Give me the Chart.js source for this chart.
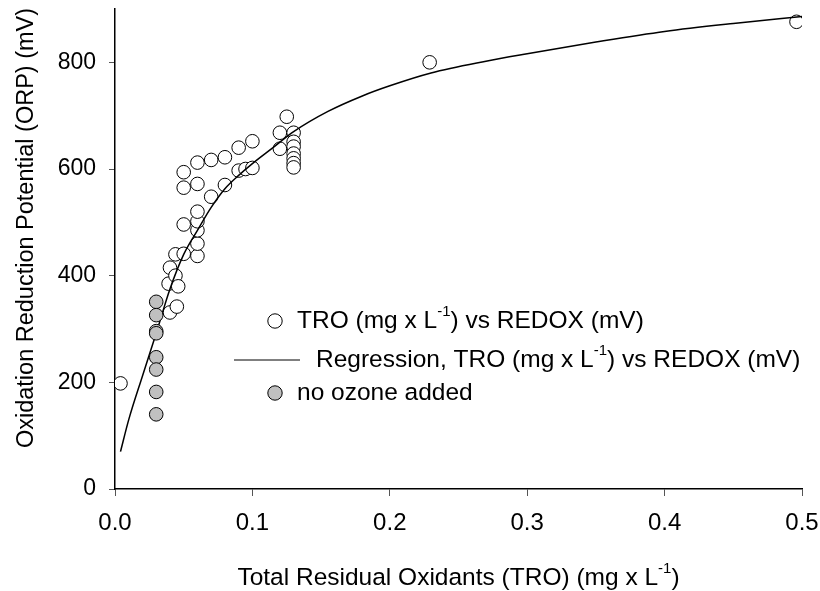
<!DOCTYPE html>
<html>
<head>
  <title>TRO vs ORP</title>
  <script src="https://cdn.jsdelivr.net/npm/chart.js"></script>
  <style>
    body {
      margin: 0;
      background: #fff;
    }
  </style>
</head>
<body>
  <canvas id="chartCanvas" width="820" height="591"></canvas>

  <script>
    // measured TRO / ORP pairs
    const troX = [0.004, 0.039, 0.040, 0.044, 0.046, 0.044, 0.040, 0.045, 0.050, 0.050,
                  0.050, 0.050, 0.060, 0.060, 0.060, 0.060, 0.060, 0.060, 0.060, 0.070,
                  0.070, 0.080, 0.080, 0.090, 0.090, 0.095, 0.100, 0.100, 0.120, 0.120,
                  0.125, 0.130, 0.130, 0.130, 0.130, 0.130, 0.130, 0.130, 0.229, 0.496];
    const orpY = [198, 385, 415, 400, 380, 440, 331, 342, 441, 496,
                  565, 594, 437, 460, 485, 502, 520, 572, 612, 548,
                  617, 570, 622, 597, 640, 600, 602, 652, 638, 668,
                  698, 668, 651, 642, 629, 620, 611, 603, 800, 876];

    // no ozone added
    const noOzoneX = [0.03, 0.03, 0.03, 0.03, 0.03, 0.03, 0.03, 0.03];
    const noOzoneY = [351, 326, 296, 292, 247, 224, 182, 140];

    // regression curve
    const regX = [0.004, 0.01, 0.02, 0.03, 0.04, 0.05, 0.06, 0.07, 0.08, 0.09, 0.1, 0.115,
                  0.13, 0.155, 0.18, 0.2, 0.23, 0.27, 0.3, 0.35, 0.4, 0.45, 0.5];
    const regY = [70, 130, 212, 292, 375, 440, 485, 528, 563, 588, 610, 640,
                  670, 708, 737, 756, 780, 802, 816, 838, 858, 873, 886];

    const xTicks = [0, 0.1, 0.2, 0.3, 0.4, 0.5];
    const yTicks = [0, 200, 400, 600, 800];

    const xTitle = [{ t: 'Total Residual Oxidants (TRO) (mg x L' }, { t: '-1', sup: true }, { t: ')' }];
    const yTitle = 'Oxidation Reduction Potential (ORP) (mV)';
    const legendRows = [
      [{ t: 'TRO (mg x L' }, { t: '-1', sup: true }, { t: ') vs REDOX (mV)' }],
      [{ t: 'Regression, TRO (mg x L' }, { t: '-1', sup: true }, { t: ') vs REDOX (mV)' }],
      [{ t: 'no ozone added' }]
    ];

    const FONT = '"Liberation Sans", Arial, sans-serif';

    function toPoints(xs, ys) {
      return xs.map((x, i) => ({ x: x, y: ys[i] }));
    }

    // draw text with superscript parts, starting at x (left), centred on y
    function drawParts(ctx, parts, x, y, size) {
      ctx.textAlign = 'left';
      ctx.textBaseline = 'middle';
      for (const p of parts) {
        if (p.sup) {
          ctx.font = Math.round(size * 0.6) + 'px ' + FONT;
          ctx.fillText(p.t, x, y - size * 0.38);
        } else {
          ctx.font = size + 'px ' + FONT;
          ctx.fillText(p.t, x, y);
        }
        x += ctx.measureText(p.t).width;
      }
    }

    function partsWidth(ctx, parts, size) {
      let w = 0;
      for (const p of parts) {
        ctx.font = (p.sup ? Math.round(size * 0.6) : size) + 'px ' + FONT;
        w += ctx.measureText(p.t).width;
      }
      return w;
    }

    const annotations = {
      id: 'annotations',
      afterDraw(chart) {
        const ctx = chart.ctx;
        const area = chart.chartArea;
        ctx.save();
        ctx.fillStyle = '#000';

        // x title
        const w = partsWidth(ctx, xTitle, 24.5);
        drawParts(ctx, xTitle, (area.left + area.right) / 2 - w / 2, 578, 24.5);

        // y title
        ctx.save();
        ctx.translate(27, 228);
        ctx.rotate(-Math.PI / 2);
        ctx.font = '23.5px ' + FONT;
        ctx.textAlign = 'center';
        ctx.textBaseline = 'middle';
        ctx.fillText(yTitle, 0, 0);
        ctx.restore();

        // legend
        const rowsY = [321, 360, 393];
        ctx.lineWidth = 1;
        ctx.strokeStyle = '#000';
        // open circle
        ctx.beginPath();
        ctx.arc(275, rowsY[0], 7.2, 0, Math.PI * 2);
        ctx.fillStyle = '#fff';
        ctx.fill();
        ctx.stroke();
        // line
        ctx.beginPath();
        ctx.moveTo(234, rowsY[1]);
        ctx.lineTo(300, rowsY[1]);
        ctx.stroke();
        // grey circle
        ctx.beginPath();
        ctx.arc(275, rowsY[2], 7.2, 0, Math.PI * 2);
        ctx.fillStyle = '#c0c0c0';
        ctx.fill();
        ctx.stroke();

        ctx.fillStyle = '#000';
        drawParts(ctx, legendRows[0], 297, rowsY[0], 24.5);
        drawParts(ctx, legendRows[1], 316, rowsY[1], 24.5);
        drawParts(ctx, legendRows[2], 297, rowsY[2], 24.5);
        ctx.restore();
      }
    };

    const ctx = document.getElementById('chartCanvas').getContext('2d');
    new Chart(ctx, {
      type: 'scatter',
      data: {
        datasets: [
          {
            label: 'TRO (mg x L-1) vs REDOX (mV)',
            data: toPoints(troX, orpY),
            pointRadius: 6.8,
            pointBackgroundColor: '#fff',
            pointBorderColor: '#000',
            pointBorderWidth: 1,
            order: 3
          },
          {
            type: 'line',
            label: 'Regression, TRO (mg x L-1) vs REDOX (mV)',
            data: toPoints(regX, regY),
            borderColor: '#000',
            borderWidth: 1.5,
            pointRadius: 0,
            fill: false,
            cubicInterpolationMode: 'monotone',
            order: 2
          },
          {
            label: 'no ozone added',
            data: toPoints(noOzoneX, noOzoneY),
            pointRadius: 6.8,
            pointBackgroundColor: '#c0c0c0',
            pointBorderColor: '#000',
            pointBorderWidth: 1,
            order: 1
          }
        ]
      },
      options: {
        responsive: false,
        animation: false,
        layout: {
          padding: { top: 9, right: 18, left: 0, bottom: 0 }
        },
        plugins: {
          legend: { display: false },
          tooltip: { enabled: false }
        },
        scales: {
          x: {
            type: 'linear',
            min: 0,
            max: 0.5,
            afterBuildTicks: scale => { scale.ticks = xTicks.map(v => ({ value: v })); },
            afterFit: scale => {
              scale.height = 102;
              scale.paddingLeft = 0;
              scale.paddingRight = 0;
            },
            grid: { drawOnChartArea: false, tickLength: 7, tickColor: '#555' },
            border: { color: '#000', width: 1.5 },
            ticks: {
              color: '#000',
              padding: 13,
              font: { family: FONT, size: 24 },
              callback: v => v.toFixed(1)
            }
          },
          y: {
            min: 0,
            max: 900,
            afterBuildTicks: scale => { scale.ticks = yTicks.map(v => ({ value: v })); },
            afterFit: scale => {
              scale.width = 115;
              scale.paddingTop = 0;
              scale.paddingBottom = 0;
            },
            grid: { drawOnChartArea: false, tickLength: 6, tickColor: '#555' },
            border: { color: '#000', width: 1.5 },
            ticks: {
              color: '#000',
              padding: 13,
              font: { family: FONT, size: 23 }
            }
          }
        }
      },
      plugins: [annotations]
    });
  </script>
</body>
</html>
